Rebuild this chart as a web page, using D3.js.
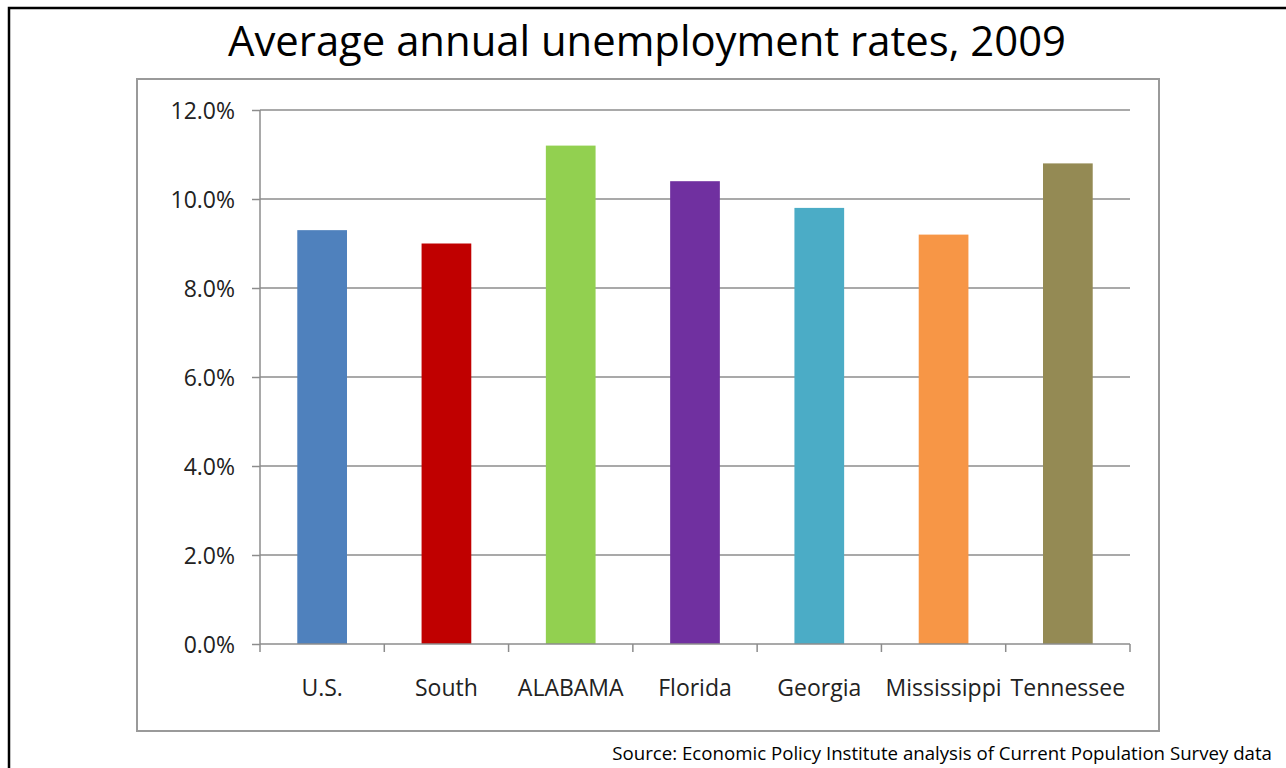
<!DOCTYPE html>
<html>
<head>
<meta charset="utf-8">
<script src="https://cdn.jsdelivr.net/npm/d3@7"></script>
<style>
  html, body { margin: 0; padding: 0; background: #fff; overflow: hidden; }
  svg { display: block; }
</style>
</head>
<body>
<svg id="chart" width="1286" height="768"></svg>
<script>
// Average annual unemployment rates, 2009 (percent)
const categories = ["U.S.", "South", "ALABAMA", "Florida", "Georgia", "Mississippi", "Tennessee"];
const rates = [9.3, 9.0, 11.2, 10.4, 9.8, 9.2, 10.8];
const barColors = ["#4F81BD", "#C00000", "#92D050", "#7030A0", "#4BACC6", "#F79646", "#948A54"];
const yTicks = [0, 2, 4, 6, 8, 10, 12];
const titleText = "Average annual unemployment rates, 2009";
const sourceText = "Source: Economic Policy Institute analysis of Current Population Survey data";

const font = "'Open Sans', sans-serif";
const svg = d3.select("#chart");

// fit a text element's font size so its run spans the given width
function fitWidth(sel, width) {
  const fs = +sel.attr("font-size");
  const w = sel.node().getComputedTextLength();
  if (w > 0) sel.attr("font-size", (fs * width / w).toFixed(2));
}

// slide frame (left and top edges visible)
svg.append("rect")
  .attr("x", 9).attr("y", 8)
  .attr("width", 1400).attr("height", 900)
  .attr("fill", "none").attr("stroke", "#000").attr("stroke-width", 2.5);

// title
const title = svg.append("text")
  .attr("x", 647).attr("y", 56)
  .attr("text-anchor", "middle")
  .attr("font-family", font)
  .attr("font-size", 42)
  .attr("fill", "#000")
  .text(titleText);
fitWidth(title, 838);

// chart area border
svg.append("rect")
  .attr("x", 137).attr("y", 79)
  .attr("width", 1022).attr("height", 652)
  .attr("fill", "#fff").attr("stroke", "#9a9a9a").attr("stroke-width", 2);

const plot = { left: 260, right: 1130, top: 110, bottom: 644 };

const x = d3.scaleBand()
  .domain(categories)
  .range([plot.left, plot.right])
  .padding(0);

const y = d3.scaleLinear()
  .domain([0, 12])
  .range([plot.bottom, plot.top]);

// horizontal gridlines
svg.append("g")
  .selectAll("line")
  .data(yTicks.filter(d => d > 0))
  .join("line")
  .attr("x1", plot.left).attr("x2", plot.right)
  .attr("y1", d => y(d)).attr("y2", d => y(d))
  .attr("stroke", "#8c8c8c").attr("stroke-width", 1.5);

// bars
const barW = x.bandwidth() * 0.4;
svg.append("g")
  .selectAll("rect")
  .data(categories)
  .join("rect")
  .attr("x", d => x(d) + (x.bandwidth() - barW) / 2)
  .attr("y", (d, i) => y(rates[i]))
  .attr("width", barW)
  .attr("height", (d, i) => y(0) - y(rates[i]))
  .attr("fill", (d, i) => barColors[i]);

// y axis
const yAxis = svg.append("g")
  .attr("transform", `translate(${plot.left},0)`)
  .call(d3.axisLeft(y).tickValues(yTicks).tickSize(8).tickPadding(17)
    .tickFormat(d => d3.format(".1f")(d) + "%"));
yAxis.select(".domain").attr("stroke", "#8c8c8c").attr("stroke-width", 1.5)
  .attr("d", `M0,${plot.top}V${plot.bottom}`);
yAxis.selectAll(".tick line").attr("stroke", "#8c8c8c").attr("stroke-width", 1.5);
yAxis.selectAll(".tick text")
  .attr("font-family", font).attr("font-size", 23).attr("fill", "#222")
  .attr("dy", "0.35em");

// x axis: baseline, boundary ticks, category labels
const xg = svg.append("g");
xg.append("line")
  .attr("x1", plot.left).attr("x2", plot.right)
  .attr("y1", y(0)).attr("y2", y(0))
  .attr("stroke", "#8c8c8c").attr("stroke-width", 1.5);
const bounds = categories.map(d => x(d)).concat([x(categories[categories.length - 1]) + x.bandwidth()]);
xg.selectAll("line.bt")
  .data(bounds)
  .join("line")
  .attr("class", "bt")
  .attr("x1", d => d).attr("x2", d => d)
  .attr("y1", y(0)).attr("y2", y(0) + 8)
  .attr("stroke", "#8c8c8c").attr("stroke-width", 1.5);
xg.selectAll("text")
  .data(categories)
  .join("text")
  .attr("x", d => x(d) + x.bandwidth() / 2)
  .attr("y", 696)
  .attr("text-anchor", "middle")
  .attr("font-family", font).attr("font-size", 23).attr("fill", "#222")
  .text(d => d);

// source note
const source = svg.append("text")
  .attr("x", 1272).attr("y", 760)
  .attr("text-anchor", "end")
  .attr("font-family", font).attr("font-size", 18).attr("fill", "#000")
  .text(sourceText);
fitWidth(source, 660);
</script>
</body>
</html>
